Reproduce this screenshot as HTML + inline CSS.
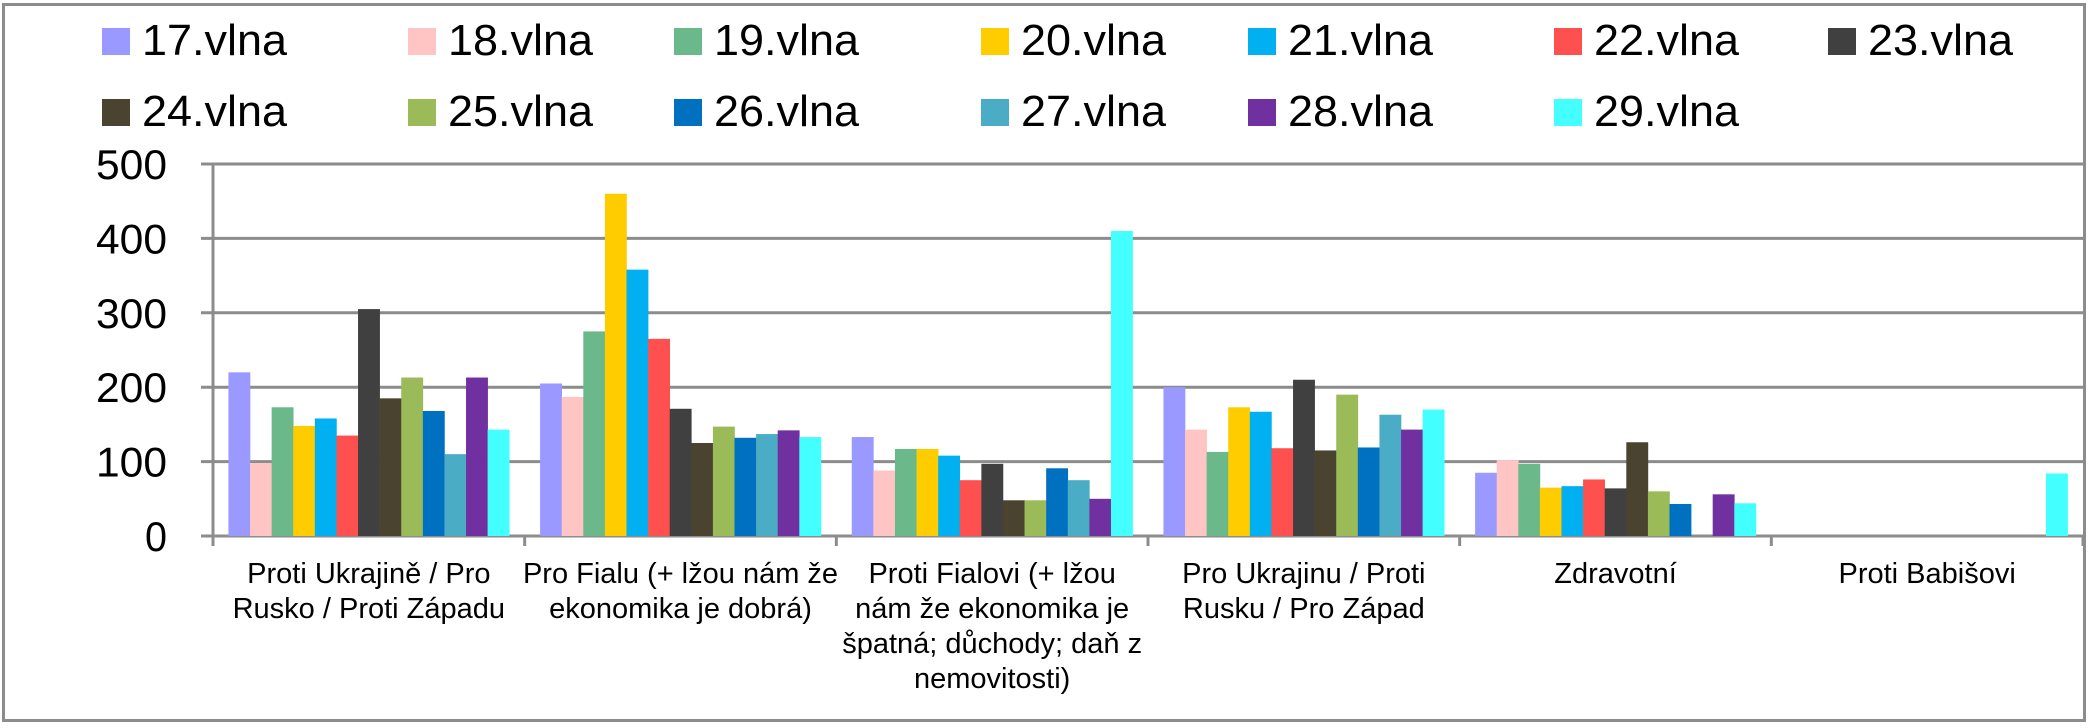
<!DOCTYPE html>
<html><head><meta charset="utf-8"><style>
html,body{margin:0;padding:0;background:#fff}
svg{display:block}
text{font-family:"Liberation Sans","DejaVu Sans",sans-serif;fill:#000}
</style></head><body>
<svg id="c" width="2090" height="728" viewBox="0 0 2090 728" xmlns="http://www.w3.org/2000/svg">
<rect x="3.5" y="4.5" width="2081" height="716" fill="#fff" stroke="#8c8c8c" stroke-width="3"/>
<g id="grid"></g>
<g id="bars"></g>
<g id="legend"></g>
<g id="ylab" font-size="42" text-anchor="end"></g>
<g id="xlab" font-size="29" text-anchor="middle"></g>
</svg>
<script>
var NS="http://www.w3.org/2000/svg";
function el(p,t,a,txt){var e=document.createElementNS(NS,t);for(var k in a)e.setAttribute(k,a[k]);if(txt!=null)e.textContent=txt;document.getElementById(p).appendChild(e);return e;}
var X0=213,X1=2083,Y0=536,S=(536-164)/500,CW=(X1-X0)/6;
var colors=["#9999FF","#FFC4C4","#6BB98A","#FFCC00","#00B0F0","#FF5050","#404040","#4A4330","#9BBB59","#0070C0","#4BACC6","#7030A0","#44FFFF"];
var data=[
[220,98,173,148,158,135,305,185,213,168,110,213,143],
[205,187,275,460,358,265,171,125,147,132,137,142,133],
[133,88,117,117,108,75,97,48,48,91,75,50,410],
[200,143,113,173,167,118,210,115,190,119,163,143,170],
[85,102,97,65,67,76,64,126,60,43,0,56,44],
[0,0,0,0,0,0,0,0,0,0,0,0,84]];
for(var v=0;v<=500;v+=100){var y=Y0-v*S;
 el("grid","line",{x1:X0-12,x2:X1,y1:y,y2:y,stroke:"#8c8c8c","stroke-width":3});
 var a={x:167,y:y+15,textLength:v>=100?71:22,lengthAdjust:"spacingAndGlyphs"};
 el("ylab","text",a,String(v));}
el("grid","line",{x1:X0,x2:X0,y1:164,y2:Y0,stroke:"#8c8c8c","stroke-width":3});
for(var i=0;i<=6;i++){var x=X0+i*CW;el("grid","line",{x1:x,x2:x,y1:Y0,y2:Y0+10,stroke:"#8c8c8c","stroke-width":3});}
var BW=21.6,G=(CW-13*BW)/2;
for(var c=0;c<6;c++)for(var s=0;s<13;s++){var h=data[c][s]*S;if(h<=0)continue;
 el("bars","rect",{x:X0+c*CW+G+s*BW,y:Y0-h,width:BW+0.3,height:h,fill:colors[s]});}
var lx=[102,408,674,981,1248,1554,1828];
for(var s=0;s<13;s++){var r=s<7?0:1,col=s<7?s:s-7;var base=r?126:55;
 el("legend","rect",{x:lx[col],y:base-27,width:28,height:27,fill:colors[s]});
 el("legend","text",{x:lx[col]+40,y:base,"font-size":"44",textLength:"145",lengthAdjust:"spacingAndGlyphs"},(17+s)+".vlna");}
var labs=[["Proti Ukrajině / Pro","Rusko / Proti Západu"],["Pro Fialu (+ lžou nám že","ekonomika je dobrá)"],["Proti Fialovi (+ lžou","nám že ekonomika je","špatná; důchody; daň z","nemovitosti)"],["Pro Ukrajinu / Proti","Rusku / Pro Západ"],["Zdravotní"],["Proti Babišovi"]];
for(var c=0;c<6;c++){var cx=X0+c*CW+CW/2;for(var l=0;l<labs[c].length;l++)
 el("xlab","text",{x:cx,y:583+l*35},labs[c][l]);}
</script>
</body></html>
